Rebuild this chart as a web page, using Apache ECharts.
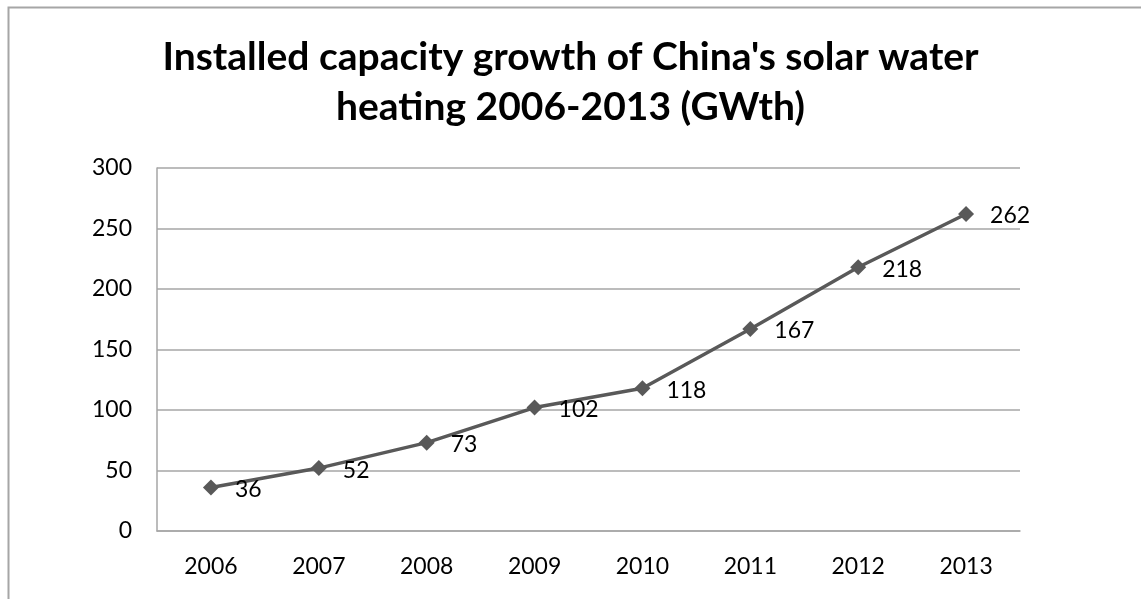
<!DOCTYPE html>
<html>
<head>
<meta charset="utf-8">
<script src="https://cdn.jsdelivr.net/npm/echarts@6/dist/echarts.min.js"></script>
<style>
  html, body { margin: 0; padding: 0; background: #fff; }
  #chart { width: 1141px; height: 599px; }
</style>
</head>
<body>
<div id="chart"></div>
<script>
const TITLE = "Installed capacity growth of China's solar water\nheating 2006-2013 (GWth)";
const YEARS = ["2006", "2007", "2008", "2009", "2010", "2011", "2012", "2013"];
const CAPACITY = [36, 52, 73, 102, 118, 167, 218, 262];

const GRID_COLOR = "#a6a6a6";
const LINE_COLOR = "#595959";
const FONT = "Lato, 'Open Sans', sans-serif";

const chart = echarts.init(document.getElementById("chart"));
chart.setOption({
  animation: false,
  title: {
    text: TITLE,
    left: "center",
    top: 27,
    textStyle: {
      fontFamily: FONT,
      fontWeight: "bold",
      fontSize: 39,
      lineHeight: 50,
      color: "#000",
    },
  },
  // frame around the chart area, cut off at right and bottom like the source
  graphic: [{
    type: "rect",
    shape: { x: 8.5, y: 7.5, width: 1300, height: 800 },
    style: { fill: null, stroke: GRID_COLOR, lineWidth: 2 },
    silent: true,
  }],
  grid: { left: 157, right: 121, top: 168, bottom: 68 },
  xAxis: {
    type: "category",
    data: YEARS,
    boundaryGap: true,
    axisLine: { lineStyle: { color: GRID_COLOR, width: 1.5 } },
    axisTick: { show: false },
    axisLabel: { fontFamily: FONT, fontSize: 23, color: "#000", margin: 24 },
  },
  yAxis: {
    type: "value",
    min: 0,
    max: 300,
    interval: 50,
    axisLine: { show: true, lineStyle: { color: GRID_COLOR, width: 1.5 } },
    axisTick: { show: false },
    splitLine: { lineStyle: { color: GRID_COLOR, width: 1.5 } },
    axisLabel: { fontFamily: FONT, fontSize: 23, color: "#000", margin: 25 },
  },
  series: [{
    type: "line",
    data: CAPACITY,
    symbol: "diamond",
    symbolSize: 16,
    itemStyle: { color: LINE_COLOR },
    lineStyle: { color: LINE_COLOR, width: 3.5 },
    label: {
      show: true,
      position: "right",
      distance: 16,
      offset: [0, 2],
      fontFamily: FONT,
      fontSize: 23,
      color: "#000",
    },
  }],
});
</script>
</body>
</html>
